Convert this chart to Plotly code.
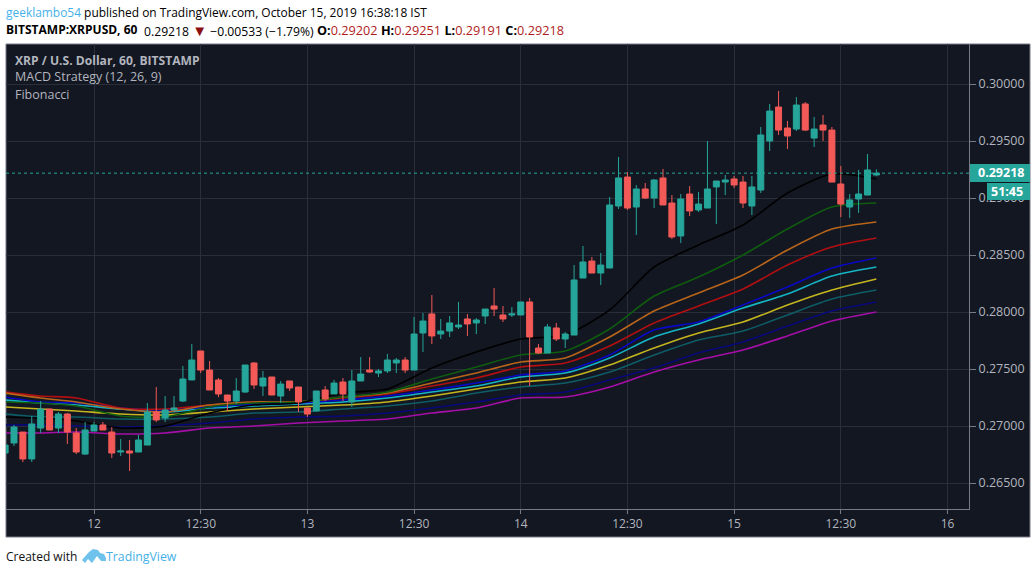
import plotly.graph_objects as go

# ---- data ----
candle_idx = list(range(-1, 98))
opens = [.26763,.26851,.26947,.26711,.26982,.27149,.26982,.27105,.26939,.26754,.26956,.27009,.26947,.26772,.26781,.26772,.26833,.27123,.27070,.27140,.27219,.27404,.27658,.27491,.27404,.27272,.27219,.27298,.27553,.27351,.27430,.27263,.27395,.27342,.27158,.27132,.27316,.27281,.27386,.27211,.27395,.27491,.27465,.27483,.27553,.27579,.27491,.27816,.27983,.27807,.27833,.27869,.27939,.27904,.27965,.28053,.27974,.27974,.27974,.28088,.27684,.27640,.27860,.27763,.27798,.28298,.28447,.28342,.28386,.28930,.29184,.28921,.29079,.29000,.29176,.28956,.28667,.29035,.28895,.28912,.29097,.29140,.29167,.29140,.28930,.29070,.29500,.29798,.29614,.29605,.29825,.29526,.29640,.29596,.29123,.28921,.28991,.29026,.29202]
highs = [.26877,.27009,.26947,.27088,.27219,.27149,.27123,.27114,.26982,.27035,.27035,.27035,.26991,.26886,.26877,.26921,.27202,.27342,.27263,.27263,.27526,.27719,.27658,.27570,.27421,.27272,.27421,.27535,.27561,.27483,.27430,.27395,.27395,.27342,.27158,.27307,.27351,.27404,.27421,.27491,.27605,.27605,.27500,.27632,.27597,.27605,.27956,.27991,.28149,.27939,.27965,.28088,.27983,.27947,.28026,.28211,.28053,.28044,.28088,.28123,.27719,.27895,.27904,.27825,.28412,.28579,.28483,.28518,.29009,.29360,.29228,.29114,.29132,.29167,.29255,.29026,.29035,.29105,.29053,.29500,.29149,.29202,.29193,.29193,.29193,.29623,.29825,.29939,.29676,.29886,.29842,.29711,.29728,.29623,.29281,.29035,.29246,.29386,.29251]
lows = [.26711,.26825,.26684,.26684,.26939,.26965,.26939,.26842,.26754,.26746,.26956,.26965,.26719,.26737,.26605,.26772,.26833,.27035,.27035,.27140,.27211,.27404,.27465,.27316,.27254,.27132,.27193,.27290,.27325,.27263,.27272,.27202,.27307,.27123,.27079,.27132,.27219,.27281,.27219,.27167,.27395,.27465,.27430,.27465,.27465,.27465,.27491,.27649,.27719,.27763,.27781,.27851,.27790,.27807,.27895,.27965,.27912,.27956,.27974,.27351,.27632,.27640,.27746,.27684,.27798,.28298,.28342,.28237,.28386,.28904,.28895,.28676,.28991,.28912,.28939,.28641,.28605,.28842,.28877,.28912,.28772,.29026,.29088,.28912,.28851,.29044,.29412,.29553,.29430,.29588,.29588,.29448,.29500,.29140,.28833,.28825,.28869,.29026,.29191]
closes = [.26833,.26991,.26711,.27018,.27149,.26965,.27105,.26947,.26772,.26965,.27009,.26965,.26763,.26781,.26763,.26877,.27123,.27053,.27140,.27158,.27412,.27579,.27491,.27316,.27281,.27219,.27307,.27535,.27360,.27421,.27272,.27368,.27333,.27211,.27105,.27307,.27237,.27377,.27281,.27395,.27456,.27474,.27483,.27579,.27579,.27491,.27807,.27921,.27790,.27833,.27904,.27886,.27895,.27930,.28026,.28026,.27939,.27983,.28088,.27781,.27640,.27869,.27763,.27807,.28281,.28439,.28342,.28412,.28939,.29176,.28912,.29079,.29000,.29158,.28939,.28658,.28991,.28886,.28947,.29079,.29149,.29158,.29114,.28956,.29097,.29553,.29763,.29596,.29544,.29816,.29596,.29605,.29596,.29140,.28947,.28983,.29035,.29246,.29218]

line_idx = [-1,3,7,12,17,22,27,32,37,42,47,52,57,62,67,72,77,82,87,92,97]
ema_black = [.27079,.27070,.27044,.26982,.27000,.27114,.27184,.27202,.27290,.27325,.27509,.27649,.27763,.27798,.28018,.28395,.28588,.28763,.29044,.29211,.29167]
ema_green = [.27211,.27202,.27175,.27088,.27079,.27167,.27202,.27211,.27254,.27298,.27412,.27518,.27623,.27658,.27851,.28140,.28307,.28500,.28728,.28921,.28956]
ema_orange = [.27290,.27246,.27211,.27149,.27123,.27184,.27211,.27211,.27254,.27290,.27377,.27465,.27561,.27597,.27781,.28009,.28167,.28325,.28544,.28728,.28790]
ema_red = [.27298,.27263,.27246,.27158,.27149,.27184,.27211,.27211,.27246,.27281,.27351,.27421,.27518,.27553,.27702,.27904,.28053,.28202,.28412,.28570,.28649]
ema_blue = [.27254,.27211,.27202,.27158,.27140,.27167,.27193,.27202,.27228,.27263,.27316,.27377,.27447,.27483,.27623,.27842,.27912,.28061,.28219,.28386,.28474]
ema_cyan = [.27228,.27202,.27184,.27149,.27123,.27158,.27175,.27193,.27211,.27246,.27298,.27351,.27430,.27465,.27597,.27781,.27895,.28035,.28158,.28316,.28395]
ema_yellow = [.27167,.27149,.27132,.27105,.27097,.27123,.27149,.27167,.27184,.27211,.27263,.27325,.27386,.27421,.27535,.27684,.27816,.27912,.28061,.28193,.28290]
ema_teal = [.27105,.27079,.27079,.27061,.27061,.27079,.27114,.27123,.27149,.27175,.27219,.27290,.27342,.27377,.27474,.27623,.27755,.27833,.27974,.28114,.28193]
ema_navy = [.27009,.27009,.27000,.26991,.27000,.27026,.27061,.27079,.27088,.27114,.27158,.27211,.27272,.27298,.27404,.27509,.27640,.27737,.27877,.28009,.28088]
ema_magenta = [.26939,.26939,.26947,.26930,.26939,.26982,.27000,.27026,.27044,.27061,.27114,.27158,.27246,.27254,.27342,.27474,.27579,.27667,.27790,.27921,.28000]

x_tick_idx = [9,21,33,45,57,69,81,93,105]
x_tick_text = ["12","12:30","13","12:30","14","12:30","15","12:30","16"]
y_ticks = [.265,.27,.275,.28,.285,.29,.295,.30]
last_price = 0.29218
# ---- end data ----

W, H = 1036, 574
L, R, T, B = 6, 1030, 44, 537      # whole dark panel
AX_X, AX_Y = 969, 509              # price axis / time axis position
BG = "#131722"; GRID = "#2a2e39"; AXIS = "#787b86"; TXT = "#b2b5be"
TEAL = "#26a69a"; RED = "#f35a57"; BLUE = "#45b1e8"
FONT = "Open Sans"

def px(x): return (x - L) / (R - L)
def py(y): return (B - y) / (B - T)

x_range = [-0.9, 107.42]
y_range = [0.26272, 0.30351]
xdom = [0, px(AX_X)]
ydom = [py(AX_Y), 1]

fig = go.Figure()
for vals, col in [(ema_magenta,"#a50fa8"),(ema_navy,"#08087a"),(ema_teal,"#0e5c66"),
                  (ema_yellow,"#c4b51e"),(ema_cyan,"#14b4c4"),(ema_blue,"#0808c8"),
                  (ema_red,"#b20f12"),(ema_orange,"#b8651a"),(ema_green,"#0f5c0f"),
                  (ema_black,"#000000")]:
    fig.add_trace(go.Scatter(x=line_idx, y=vals, mode="lines",
                             line=dict(color=col, width=1.6, shape="spline", smoothing=0.7),
                             hoverinfo="skip"))

fig.add_trace(go.Candlestick(
    x=candle_idx, open=opens, high=highs, low=lows, close=closes,
    xaxis="x2", yaxis="y2",
    increasing=dict(line=dict(color=TEAL, width=1), fillcolor=TEAL),
    decreasing=dict(line=dict(color=RED, width=1), fillcolor=RED),
    hoverinfo="skip"))

def ann(x, y, text, size=12, color="#000", **kw):
    return dict(xref="paper", yref="paper", x=px(x), y=py(y), text=text, showarrow=False,
                xanchor=kw.pop("xanchor","left"), yanchor="middle",
                font=dict(family=FONT, size=size, color=color), **kw)

header1 = f'<span style="color:{BLUE}">geeklambo54</span> published on TradingView.com, October 15, 2019 16:38:18 IST'
R2 = "#b01c1c"
header2a = '<b>BITSTAMP:XRPUSD, 60</b>'
header2b = '0.29218 <span style="color:#8b0f0f;font-size:15px">▼</span> −0.00533 (−1.79%)'
header2c = (f'<b>O:</b><span style="color:{R2}">0.29202</span> <b>H:</b><span style="color:{R2}">0.29251</span> '
            f'<b>L:</b><span style="color:{R2}">0.29191</span> <b>C:</b><span style="color:{R2}">0.29218</span>')

annotations = [
    ann(4, 12, header1, 11.95),
    ann(4, 29.5, header2a, 12),
    ann(142, 29.5, header2b, 12.2),
    ann(315, 29.5, header2c, 12.7),
    ann(13, 60, "<b>XRP / U.S. Dollar, 60, BITSTAMP</b>", 12.1, TXT),
    ann(13, 77, "MACD Strategy (12, 26, 9)", 12.5, TXT),
    ann(13, 94, "Fibonacci", 12.5, TXT),
    ann(4, 556, "Created with", 12, "#111"),
    ann(104, 556, "TradingView", 12.3, BLUE),
    ann(1026, 172.5, "<b>0.29218</b>", 12.5, "#ffffff", xanchor="right"),
    ann(1025, 191.5, "<b>51:45</b>", 12.5, "#ffffff", xanchor="right"),
]

def rect(x0, y0, x1, y1, fill, line=None, layer="above"):
    return dict(type="rect", xref="paper", yref="paper", x0=px(x0), x1=px(x1), y0=py(y0), y1=py(y1),
                fillcolor=fill, line=dict(color=line or fill, width=1 if line else 0), layer=layer)

def logo(points, fill):
    d = "M" + " L".join(f"{px(a):.5f},{py(b):.5f}" for a, b in points) + " Z"
    return dict(type="path", xref="paper", yref="paper", path=d, fillcolor=fill, line=dict(width=0), layer="above")

shapes = [
    rect(L, T, R, B, BG, AXIS, "below"),
    dict(type="line", xref="paper", yref="y", x0=px(L), x1=px(AX_X), y0=last_price, y1=last_price,
         line=dict(color=TEAL, width=1, dash="dot"), layer="above"),
    rect(970, 164, 1030, 182, TEAL),
    rect(987, 183, 1030, 200, TEAL),
    logo([(82,560),(89,552),(93,549),(98,550),(100,553),(104,554),(106,558),(106,561),
          (101,561),(97,556),(92,563),(88,559),(85,563)], "#6fc2ec"),
]

fig.update_layout(
    width=W, height=H, autosize=False,
    margin=dict(l=L, r=W-R, t=T, b=H-B, pad=0),
    paper_bgcolor="#ffffff", plot_bgcolor=BG,
    showlegend=False, dragmode=False, hovermode=False,
    boxgap=0.325, boxgroupgap=0,
    annotations=annotations, shapes=shapes,
    xaxis=dict(domain=xdom, range=x_range, anchor="y", tickmode="array",
               tickvals=x_tick_idx, ticktext=x_tick_text, showgrid=True, gridcolor=GRID, gridwidth=1,
               zeroline=False, showline=True, linecolor=AXIS, linewidth=1,
               ticks="outside", ticklen=4, tickcolor=AXIS,
               tickfont=dict(family=FONT, size=12, color=TXT), rangeslider=dict(visible=False)),
    yaxis=dict(domain=ydom, range=y_range, anchor="x", side="right", tickmode="array",
               tickvals=y_ticks, tickformat=".5f", showgrid=True, gridcolor=GRID, gridwidth=1,
               zeroline=False, showline=True, linecolor=AXIS, linewidth=1,
               ticks="outside", ticklen=6, tickcolor=AXIS,
               tickfont=dict(family=FONT, size=12.5, color=TXT)),
    xaxis2=dict(domain=xdom, range=x_range, overlaying="x", anchor="y2", visible=False,
                rangeslider=dict(visible=False)),
    yaxis2=dict(domain=ydom, range=y_range, overlaying="y", anchor="x2", visible=False, side="right"),
)

fig.write_html("out.html", config={"displayModeBar": False},
               post_script="document.body.style.margin='0';document.body.style.overflow='hidden';")
